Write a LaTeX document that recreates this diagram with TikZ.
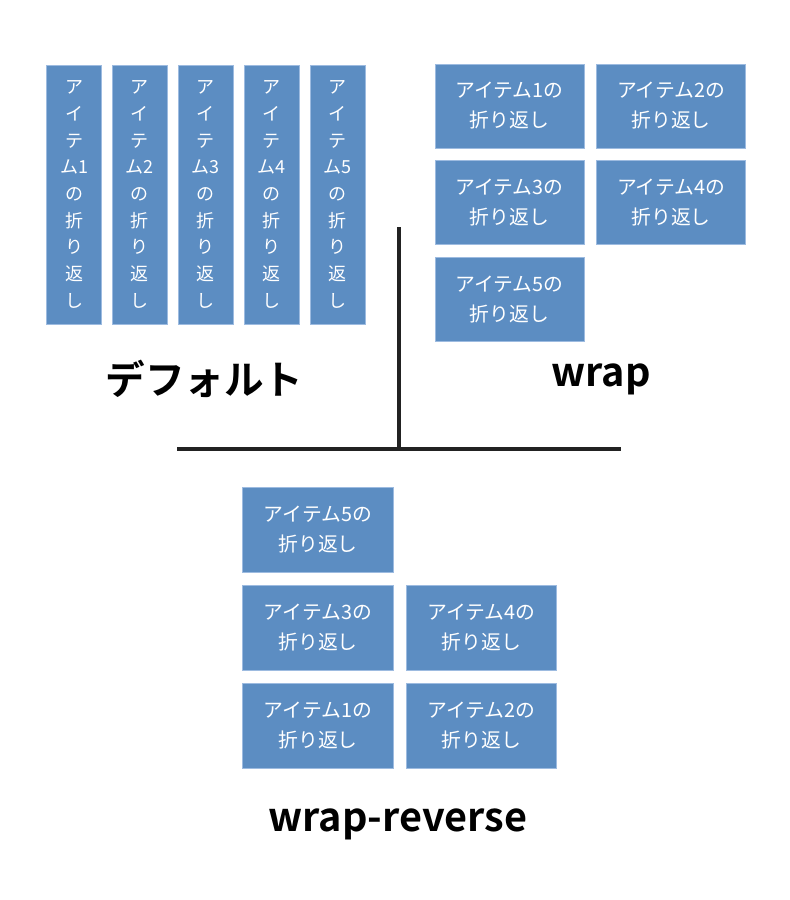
\documentclass[tikz,border=0pt]{standalone}
\usepackage{fontspec}
\newfontfamily\jp{Noto Sans CJK JP}[BoldFont={Noto Sans CJK JP Bold}]
\definecolor{boxblue}{HTML}{5C8DC2}
\definecolor{boxedge}{HTML}{9DBBE0}
\definecolor{linegray}{HTML}{222222}
\begin{document}
\begin{tikzpicture}[x=1pt,y=-1pt,
  itemv/.style={fill=boxblue,draw=boxedge,line width=0.6pt,minimum width=55pt,minimum height=259pt,inner sep=0pt,text=white,align=center,font=\jp\fontsize{18}{26.7}\selectfont},
  itemh/.style={fill=boxblue,draw=boxedge,line width=0.6pt,minimum width=149pt,minimum height=84pt,inner sep=0pt,text=white,align=center,font=\jp\fontsize{19.8}{30}\selectfont},
  lbl/.style={inner sep=0pt,text=black,font=\jp\bfseries\fontsize{39.6}{44}\selectfont},
  axis/.style={draw=linegray,line width=3.5pt}]
\fill[white] (0,0) rectangle (790,900);
% default
\foreach \i/\x in {1/74.2,2/139.8,3/205.8,4/271.5,5/337.5}{
  \node[itemv] (d\i) at (\x,194.5) {ア\\イ\\テ\\ム\i\\の\\折\\り\\返\\し};
}
% wrap
\node[itemh] (w1) at (509.5,106) {アイテム1の\\折り返し};
\node[itemh] (w2) at (671,106) {アイテム2の\\折り返し};
\node[itemh] (w3) at (509.5,202.7) {アイテム3の\\折り返し};
\node[itemh] (w4) at (671,202.7) {アイテム4の\\折り返し};
\node[itemh] (w5) at (509.5,299.3) {アイテム5の\\折り返し};
% wrap-reverse
\node[itemh,minimum width=150.6pt,minimum height=85pt] (r5) at (318,529.7) {アイテム5の\\折り返し};
\node[itemh,minimum width=150.6pt,minimum height=85pt] (r3) at (318,627.8) {アイテム3の\\折り返し};
\node[itemh,minimum width=150.6pt,minimum height=85pt] (r4) at (481.3,627.8) {アイテム4の\\折り返し};
\node[itemh,minimum width=150.6pt,minimum height=85pt] (r1) at (318,725.8) {アイテム1の\\折り返し};
\node[itemh,minimum width=150.6pt,minimum height=85pt] (r2) at (481.3,725.8) {アイテム2の\\折り返し};
% labels
\node[lbl] (ldef) at (204.5,378.5) {デフォルト};
\node[lbl,anchor=base] (lwrap) at (601,386) {wrap};
\node[lbl,anchor=base] (lrev) at (398,831) {wrap-reverse};
% axes
\coordinate (hl) at (177,449);
\coordinate (hr) at (621,449);
\coordinate (vt) at (399,227);
\coordinate (vb) at (399,449);
\draw[axis] (hl) -- (hr);
\draw[axis] (vt) -- (vb);
\end{tikzpicture}
\end{document}
